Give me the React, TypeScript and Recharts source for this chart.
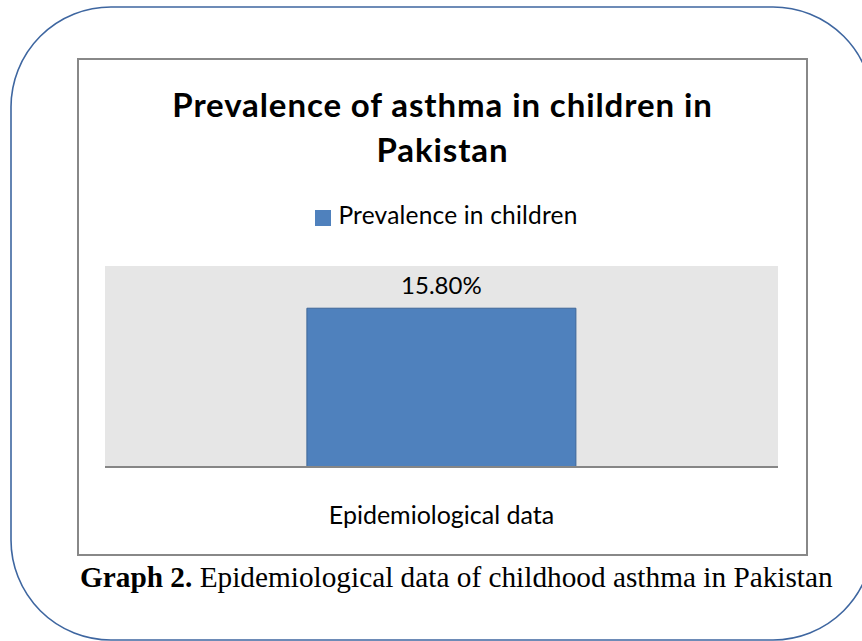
import { BarChart, Bar, XAxis, YAxis, CartesianGrid, Legend, LabelList } from "recharts";

const categories = ["Epidemiological data"];
const prevalence = [15.8];
const seriesName = "Prevalence in children";
const titleLines = ["Prevalence of asthma in children in", "Pakistan"];

const data = categories.map((name, i) => ({ name, value: prevalence[i] }));

const font = "Lato, 'Open Sans', sans-serif";

export default function App() {
  return (
    <div style={{ position: "absolute", left: 0, top: 0, width: 862, height: 641, background: "#fff", overflow: "hidden" }}>
      <svg width={862} height={641} style={{ position: "absolute", left: 0, top: 0 }}>
        <rect x={11} y={7} width={862} height={633} rx={100} ry={100} fill="none" stroke="#3e66a0" strokeWidth={1.6} />
      </svg>
      <div
        style={{
          position: "absolute",
          left: 77,
          top: 58,
          width: 727,
          height: 494,
          border: "2px solid #888",
          background: "#fff",
        }}
      >
        <div
          style={{
            position: "absolute",
            left: 0,
            top: 22,
            width: "100%",
            textAlign: "center",
            fontFamily: font,
            fontWeight: 700,
            fontSize: 33,
            letterSpacing: 0.9,
            lineHeight: "45px",
            color: "#000",
          }}
        >
          {titleLines.map((l) => (
            <div key={l}>{l}</div>
          ))}
        </div>
        <div style={{ position: "absolute", left: -2, top: -2 }}>
          <BarChart width={729} height={496} data={data} margin={{ top: 208, right: 28, bottom: 0, left: 28 }} barCategoryGap="30%">
            <CartesianGrid fill="#e6e6e6" horizontal={false} vertical={false} stroke="none" />
            <XAxis
              dataKey="name"
              height={87}
              tickLine={false}
              axisLine={{ stroke: "#868686", strokeWidth: 2 }}
              tickMargin={33}
              tick={{ fill: "#000", fontSize: 25, fontFamily: font }}
            />
            <YAxis hide domain={[0, 20]} width={0} />
            <Legend
              verticalAlign="middle"
              align="center"
              iconType="square"
              iconSize={16}
              wrapperStyle={{ top: 142, marginLeft: 10, fontFamily: font, fontSize: 24.5, letterSpacing: 0.2 }}
              formatter={(v) => <span style={{ color: "#000", marginLeft: 3 }}>{v}</span>}
            />
            <Bar dataKey="value" name={seriesName} fill="#4f81bd" stroke="#3e6698" strokeWidth={1} isAnimationActive={false}>
              <LabelList
                dataKey="value"
                position="top"
                offset={14}
                formatter={(v: number) => `${v.toFixed(2)}%`}
                style={{ fill: "#000", fontSize: 24, fontFamily: font }}
              />
            </Bar>
          </BarChart>
        </div>
      </div>
      <div
        style={{
          position: "absolute",
          left: 80,
          top: 561,
          fontFamily: "'Liberation Serif', 'Times New Roman', serif",
          fontSize: 29.3,
          color: "#000",
          whiteSpace: "nowrap",
        }}
      >
        <b>Graph 2.</b> Epidemiological data of childhood asthma in Pakistan
      </div>
    </div>
  );
}
